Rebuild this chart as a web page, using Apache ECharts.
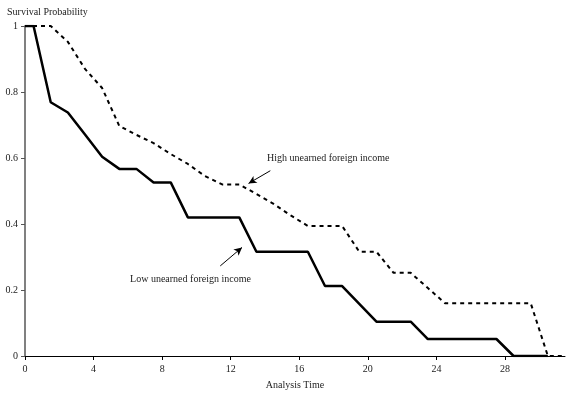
<!DOCTYPE html>
<html>
<head>
<meta charset="utf-8">
<script src="https://cdn.jsdelivr.net/npm/echarts@6/dist/echarts.min.js"></script>
<style>
html,body{margin:0;padding:0;background:#fff;overflow:hidden;}
#chart{width:570px;height:393px;}
</style>
</head>
<body>
<div id="chart"></div>
<script>
// Analysis times of the plotted points
var timesLow  = [0, 0.5, 1.5, 2.5, 3.5, 4.5, 5.5, 6.5, 7.5, 8.5, 9.5, 10.5, 11.5, 12.5, 13.5, 14.5, 15.5, 16.5, 17.5, 18.5, 19.5, 20.5, 21.5, 22.5, 23.5, 24.5, 25.5, 26.5, 27.5, 28.5, 29.5, 30.5];
var survLow   = [1, 1, 0.769, 0.738, 0.671, 0.604, 0.567, 0.567, 0.526, 0.526, 0.420, 0.420, 0.420, 0.420, 0.316, 0.316, 0.316, 0.316, 0.212, 0.212, 0.158, 0.104, 0.104, 0.104, 0.0515, 0.0515, 0.0515, 0.0515, 0.0515, 0, 0, 0];
var timesHigh = [0, 0.5, 1.5, 2.5, 3.5, 4.5, 5.5, 6.5, 7.5, 8.5, 9.5, 10.5, 11.5, 12.5, 13.5, 14.5, 15.5, 16.5, 17.5, 18.5, 19.5, 20.5, 21.5, 22.5, 23.5, 24.5, 25.5, 26.5, 27.5, 28.5, 29.5, 30.5, 31.5];
var survHigh  = [1, 1, 1, 0.952, 0.870, 0.812, 0.697, 0.670, 0.645, 0.612, 0.582, 0.545, 0.520, 0.520, 0.491, 0.461, 0.426, 0.394, 0.394, 0.394, 0.316, 0.316, 0.252, 0.252, 0.206, 0.160, 0.160, 0.160, 0.160, 0.160, 0.160, 0, 0];
var xTicks = [0, 4, 8, 12, 16, 20, 24, 28];
var yTicks = [0, 0.2, 0.4, 0.6, 0.8, 1];
var labelHigh = 'High unearned foreign income';
var labelLow  = 'Low unearned foreign income';
var yTitle = 'Survival Probability';
var xTitle = 'Analysis Time';
// annotation anchor points (data coordinates)
var highTextAt = [14.12, 0.606];
var highArrow  = [[14.31, 0.5615], [13.04, 0.523]];
var lowTextAt  = [6.13, 0.238];
var lowArrow   = [[11.39, 0.273], [12.66, 0.329]];

function zip(a, b) { return a.map(function (t, i) { return [t, b[i]]; }); }

var FONT = 'Liberation Serif';
var FS = 10;
var TXT = '#222';
var chart = echarts.init(document.getElementById('chart'), null, {renderer: 'canvas'});
chart.setOption({
  animation: false,
  backgroundColor: '#fff',
  textStyle: {fontFamily: FONT},
  title: {
    text: yTitle, left: 7, top: 7, padding: 0,
    textStyle: {fontFamily: FONT, fontSize: FS, fontWeight: 'normal', color: TXT}
  },
  grid: {left: 25, top: 26, right: 5, bottom: 37, containLabel: false, outerBoundsMode: 'none'},
  xAxis: {
    type: 'value', min: 0, max: 31.5,
    name: xTitle, nameLocation: 'middle', nameGap: 24,
    nameTextStyle: {fontFamily: FONT, fontSize: FS, color: TXT},
    axisLine: {show: true, onZero: false, lineStyle: {color: '#000', width: 1}},
    axisTick: {show: true, inside: false, length: 4, customValues: xTicks, lineStyle: {color: '#000'}},
    axisLabel: {customValues: xTicks, margin: 8, fontFamily: FONT, fontSize: FS, color: TXT},
    splitLine: {show: false}
  },
  yAxis: {
    type: 'value', min: 0, max: 1,
    axisLine: {show: true, lineStyle: {color: '#808080', width: 2}},
    axisTick: {show: true, inside: false, length: 4, customValues: yTicks, lineStyle: {color: '#555'}},
    axisLabel: {customValues: yTicks, margin: 7, fontFamily: FONT, fontSize: FS, color: TXT},
    splitLine: {show: false}
  },
  series: [
    {
      name: labelHigh, type: 'line', data: zip(timesHigh, survHigh),
      symbol: 'none', silent: true, z: 2,
      lineStyle: {color: '#000', width: 2, type: [4, 4]},
      markPoint: {
        symbol: 'circle', symbolSize: 0, silent: true,
        label: {show: true, position: 'right', distance: 0, offset: [0, 2], formatter: labelHigh,
                fontFamily: FONT, fontSize: FS, color: TXT},
        data: [{coord: highTextAt}]
      },
      markLine: {
        silent: true, symbol: ['none', 'arrow'], symbolSize: [6, 8],
        lineStyle: {color: '#000', width: 1, type: 'solid'},
        label: {show: false},
        data: [[{coord: highArrow[0]}, {coord: highArrow[1]}]]
      }
    },
    {
      name: labelLow, type: 'line', data: zip(timesLow, survLow),
      symbol: 'none', silent: true, z: 3,
      lineStyle: {color: '#000', width: 2.5, type: 'solid'},
      markPoint: {
        symbol: 'circle', symbolSize: 0, silent: true,
        label: {show: true, position: 'right', distance: 0, offset: [0, 2], formatter: labelLow,
                fontFamily: FONT, fontSize: FS, color: TXT},
        data: [{coord: lowTextAt}]
      },
      markLine: {
        silent: true, symbol: ['none', 'arrow'], symbolSize: [6, 8],
        lineStyle: {color: '#000', width: 1, type: 'solid'},
        label: {show: false},
        data: [[{coord: lowArrow[0]}, {coord: lowArrow[1]}]]
      }
    }
  ]
});
</script>
</body>
</html>
